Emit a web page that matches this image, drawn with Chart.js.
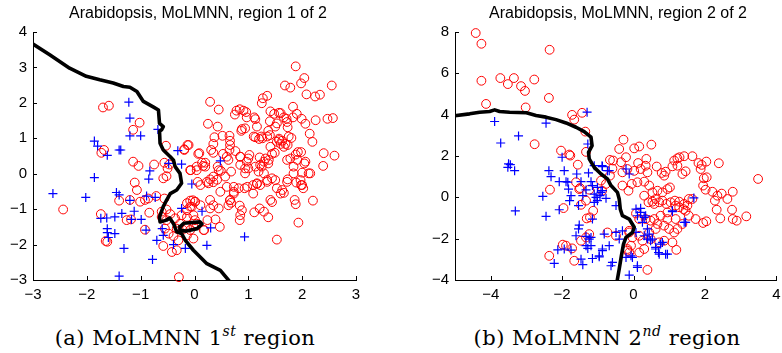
<!DOCTYPE html>
<html>
<head>
<meta charset="utf-8">
<script src="https://cdn.jsdelivr.net/npm/chart.js@4.4.1/dist/chart.umd.min.js"></script>
<style>
  body { margin: 0; background: #fff; width: 782px; height: 353px; position: relative; overflow: hidden; }
  canvas { position: absolute; top: 0; }
  #c1 { left: 0; }
  #c2 { left: 390px; }
  .ttl { position: absolute; top: 4px; font: 16px "Liberation Sans", Arial, sans-serif; color: #000; white-space: nowrap; transform: translateX(-50%); }
  .cap { position: absolute; top: 326px; font: 21px "DejaVu Serif", serif; letter-spacing: 0.5px; color: #000; white-space: nowrap; transform: translateX(-50%); }
  .cap sup { font-size: 14px; font-style: italic; vertical-align: 9px; line-height: 0; }
</style>
</head>
<body>
<canvas id="c1" width="390" height="310"></canvas>
<canvas id="c2" width="392" height="310"></canvas>
<div class="ttl" style="left:198px">Arabidopsis, MoLMNN, region 1 of 2</div>
<div class="ttl" style="left:618px">Arabidopsis, MoLMNN, region 2 of 2</div>
<div class="cap" style="left:185px">(a) MoLMNN 1<sup>st</sup> region</div>
<div class="cap" style="left:607px">(b) MoLMNN 2<sup>nd</sup> region</div>
<script>
// ---- region 1 ----
const xTicks1 = [-3, -2, -1, 0, 1, 2, 3];
const yTicks1 = [-3, -2, -1, 0, 1, 2, 3, 4];

const circles1 = [
  [1.88,3.03],[2.04,2.70],[1.98,2.55],[1.68,2.49],[1.78,2.43],[2.55,2.49],[2.33,2.23],[2.24,2.18],[2.08,2.24],
  [1.35,2.2],[1.27,2.13],[1.25,1.99],[0.29,2.03],[0.45,1.81],[0.84,1.82],[0.78,1.78],[0.91,1.78],[0.96,1.74],
  [0.75,1.67],[0.97,1.59],[1.11,1.59],[1.13,1.54],[1.41,1.76],[1.48,1.69],[1.57,1.72],[1.6,1.71],[1.66,1.59],
  [1.71,1.55],[1.83,1.89],[1.9,1.69],[1.83,1.59],[1.99,1.55],[2.47,1.55],[2.57,1.57],[2.25,1.51],[1.40,1.48],
  [1.53,1.42],[1.5,1.33],[1.72,1.46],[1.73,1.31],[0.25,1.41],[0.43,1.33],[0.88,1.26],[0.94,1.28],[0.87,1.21],
  [2.14,1.13],[2.06,1.41],[1.37,1.21],[1.40,1.09],[1.24,1.05],[1.2,0.98],[1.26,1.0],[1.13,1.03],[0.37,1.03],
  [0.52,1.07],[0.65,1.07],[0.66,0.93],[1.57,0.99],[1.63,0.93],[1.8,1.01],[1.69,0.84],[1.73,0.81],[1.6,0.84],
  [1.53,0.9],[2.19,0.9],[-0.13,0.81],[-0.19,0.67],[0.35,0.84],[0.31,0.67],[0.35,0.59],[0.66,0.81],[0.65,0.67],
  [0.76,0.64],[0.85,0.48],[1.02,0.53],[0.53,0.56],[0.6,0.48],[0.63,0.39],[0.09,0.58],[1.49,0.59],[1.44,0.56],
  [1.92,0.61],[1.88,0.54],[1.98,0.61],[2.4,0.58],[2.6,0.51],[2.39,0.22],[1.21,0.46],[1.29,0.34],[1.37,0.29],
  [1.38,0.39],[1.25,0.2],[0.97,0.34],[0.85,0.25],[0.94,0.15],[1.13,0.2],[1.19,0.06],[1.29,0.01],[1.72,0.39],
  [1.78,0.43],[1.91,0.39],[1.84,0.2],[2.04,0.29],[2.0,0.03],[2.12,0.01],[0.14,0.31],[0.2,0.2],[0.04,0.1],
  [-0.07,0.1],[0.43,0.2],[0.49,0.08],[0.68,0.06],[0.29,-0.16],[0.35,-0.24],[0.26,-0.27],[0.42,-0.17],[0.57,-0.08],
  [0.06,-0.23],[0.11,-0.32],[0.6,-0.37],[0.73,-0.37],[0.82,-0.41],[0.93,-0.41],[0.73,-0.51],[1.09,-0.32],
  [1.16,-0.29],[1.22,-0.32],[1.35,-0.18],[1.44,-0.13],[1.5,-0.18],[1.09,-0.56],[1.6,-0.56],[1.66,-0.54],
  [1.53,-0.41],[1.73,-0.16],[1.89,-0.25],[1.98,-0.32],[2.02,-0.41],[1.41,-0.74],[1.44,-0.8],[1.86,-0.74],
  [1.88,-0.86],[2.2,-0.76],[-0.08,-0.76],[0.01,-0.79],[-0.08,-0.93],[-0.14,-0.83],[0.29,-0.74],[0.35,-0.89],
  [0.29,-0.98],[0.45,-0.98],[0.66,-0.74],[0.63,-0.89],[0.68,-0.82],[0.84,-0.9],[0.88,-1.03],[0.85,-1.17],
  [0.84,-1.31],[1.11,-1.09],[1.21,-0.98],[1.29,-1.07],[1.37,-1.23],[-0.14,-1.03],[-0.02,-1.17],[0.01,-1.31],
  [0.24,-1.31],[0.39,-1.29],[0.47,-1.5],[0.18,-1.59],[1.93,-1.38],[1.53,-1.86],
  [0.85,0.48],[1.0,0.43],[1.0,0.15],[0.94,0.01],[1.22,0.25],[1.32,0.43],[1.41,0.76],[1.35,1.05],[1.1,1.05],
  [1.16,1.33],[1.57,0.95],[1.66,0.76],[1.75,1.05],[0.45,0.1],[0.35,-0.08],[0.23,-0.23],[0.48,-0.51],[0.73,-0.56],
  [0.66,-0.75],[0.98,-0.37],[1.16,-0.27],[1.35,-0.23],[1.63,-0.46],[1.72,-0.23],[1.84,0.01],[1.97,-0.18],
  [2.0,-0.32],[2.15,0.01],[2.06,0.34],
  [-1.7,1.87],[-1.59,1.92],[-1.02,1.44],[-1.14,1.24],[-0.53,0.79],[-0.19,0.69],[-0.11,0.81],[-1.68,0.67],
  [-1.73,0.59],[0.07,0.56],[-1.14,0.34],[-1.04,0.22],[-0.75,0.26],[-0.56,0.31],[-0.47,0.26],[-0.5,0.15],
  [-0.08,0.1],[0.04,0.2],[0.16,0.22],[0.2,0.31],[-0.58,-0.13],[-0.52,-0.07],[-1.11,-0.25],[-1.07,-0.46],
  [-1.4,-0.76],[-1.2,-0.74],[-1.01,-0.79],[-0.92,-0.74],[-0.86,-0.7],[-0.71,-0.63],[-0.56,-0.7],[-2.44,-1.01],
  [-1.74,-1.14],[-1.26,-1.31],[-1.18,-1.29],[-0.84,-1.1],[-0.61,-1.07],[-0.52,-1.01],[-0.92,-1.58],[-1.65,-1.9],
  [-1.62,-1.92],[-0.58,-2.04],[-0.42,-2.21],[-0.33,-2.16],[-0.29,-2.92],
  [-0.61,-1.22],[-0.52,-1.31],[-0.45,-1.14],[-0.36,-1.26],[-0.27,-1.41],[-0.33,-1.55],[-0.22,-1.58],[-0.14,-1.5],
  [-0.08,-1.59],[-0.02,-1.48],[0.04,-1.41],[-0.55,-1.55],[-0.48,-1.69],[-0.39,-1.76],[-0.3,-1.88],[-0.14,-1.74],
  [-0.02,-1.83],[0.17,-1.59],[-0.24,-1.17],[-0.14,-1.22],[-0.05,-0.93],[0.01,-0.79],[0.11,-0.89],[-0.03,-0.75]
];

const crosses1 = [
  [-1.22,2.02],[-1.2,1.57],[-1.2,1.07],[-1.0,1.07],[-0.68,1.25],[-1.86,0.92],[-1.8,0.78],[-1.62,0.52],
  [-1.4,0.67],[-1.37,0.67],[-0.31,0.65],[-1.86,-0.11],[-0.83,0.08],[-0.85,-0.15],[-0.48,0.29],[-0.24,0.27],
  [0.48,0.36],[-0.05,-0.29],[-2.63,-0.56],[-2.02,-0.67],[-1.45,-0.53],[-1.4,-0.6],[-1.2,-0.75],[-0.89,-0.63],
  [-0.73,-0.67],[-0.24,-0.98],[0.14,-1.06],[-1.12,-1.06],[-1.35,-1.12],[-1.48,-1.22],[-1.63,-1.25],[-1.74,-1.26],
  [-1.17,-1.29],[-0.99,-1.29],[-1.62,-1.55],[-1.62,-1.66],[-1.48,-1.69],[-1.6,-1.8],[-0.9,-1.59],[-0.6,-1.55],
  [-0.58,-1.74],[-0.7,-1.88],[-0.39,-2.0],[-0.17,-2.11],[0.23,-2.02],[0.3,-1.53],[0.93,-1.78],[-1.31,-2.11],
  [-0.78,-2.42],[-1.4,-2.89]
];

const boundary1 = [
  [-3,3.66],[-2.69,3.36],[-2.32,2.98],[-2.01,2.75],[-1.76,2.65],[-1.51,2.56],[-1.32,2.46],[-1.2,2.44],
  [-1.07,2.32],[-0.95,2.04],[-0.76,1.88],[-0.67,1.80],[-0.65,1.42],[-0.58,1.33],[-0.61,1.24],[-0.65,1.2],
  [-0.64,0.86],[-0.58,0.67],[-0.45,0.48],[-0.39,0.38],[-0.36,0.20],[-0.27,0.01],[-0.24,-0.27],[-0.33,-0.46],
  [-0.45,-0.56],[-0.52,-0.75],[-0.58,-0.93],[-0.65,-1.22],[-0.64,-1.36],[-0.52,-1.31],[-0.46,-1.25],
  [-0.39,-1.41],[-0.33,-1.64],[-0.24,-1.69],[-0.17,-1.88],[-0.02,-2.16],[0.23,-2.54],[0.48,-2.73],[0.63,-3.0]
];

const loop1 = [
  [-0.27,-1.5],[-0.2,-1.4],[0.1,-1.36],[0.14,-1.42],[0.05,-1.55],[-0.15,-1.62],[-0.27,-1.6],[-0.27,-1.5]
];

// ---- region 2 ----
const xTicks2 = [-4, -2, 0, 2, 4];
const yTicks2 = [-4, -2, 0, 2, 4, 6, 8];

const circles2 = [
  [-4.42,7.95],[-4.26,7.43],[-4.26,5.64],[-4.13,4.52],[-3.73,5.77],[-3.52,5.48],[-3.35,5.77],[-3.15,5.38],
  [-3.04,5.15],[-2.78,5.7],[-2.35,7.14],[-2.37,4.81],[-3.02,4.35],[-2.77,2.57],[-1.72,3.99],[-1.44,4.09],
  [-1.66,3.76],[-1.35,3.18],[-2.03,2.26],[-1.8,2.07],[-1.77,2.02],[-1.56,1.58],[-1.33,2.2],[-2.34,0.37],
  [-1.96,-0.52],[-1.98,-2.29],[-1.89,-2.34],[-1.72,-2.47],[-2.36,-2.83],[-1.66,-3.07],[-1.5,0.45],[-1.24,0.37],
  [-1.47,-0.36],[-1.33,-0.16],[-1.13,-0.65],[-1.31,-1.02],[-1.47,-2.1],[-1.24,-1.78],[-0.91,0.81],[-0.88,0.32],
  [-0.77,0.65],[-0.66,1.05],[-0.57,1.78],[-0.35,1.7],[-0.73,-1.7],[-0.49,-1.86],[-0.12,-1.62],[-0.07,-2.34],
  [-0.17,-2.58],[-1.61,0.73],[-1.52,0.4],[-1.22,-0.97],[-1.33,-1.94],
  [-0.28,2.79],[-0.4,2.34],[0.02,2.37],[0.16,2.46],[0.5,2.55],[-0.66,1.81],[-0.59,1.39],[-0.21,1.94],
  [0.13,1.66],[0.36,1.86],[0.65,1.49],[0.86,1.05],[0.79,1.18],[0.9,1.24],[1.14,1.78],[1.23,1.89],[1.29,1.94],
  [1.42,1.99],[1.65,1.99],[1.09,1.5],[1.23,1.53],[1.37,1.13],[1.46,1.26],[1.82,1.66],[1.91,1.57],[2.04,1.73],
  [2.39,1.65],[1.88,1.37],[1.97,0.92],[2.05,0.97],[1.95,0.57],[2.02,0.37],[2.21,0.27],[2.28,-0.16],[2.35,0.08],
  [2.47,0.18],[2.63,-0.08],[2.78,0.27],[3.49,0.89],[3.16,-0.92],[2.76,-0.6],[2.78,-1.05],[2.89,-1.13],
  [2.43,-1.02],[1.95,-1.24],[2.04,-1.16],[2.33,-0.6],[-0.31,1.21],[-0.17,1.37],[0.02,1.28],[0.2,1.37],
  [0.34,1.53],[0.39,1.21],
  [-0.31,0.57],[-0.14,0.32],[-0.05,0.65],[0.11,0.73],[0.3,0.76],[0.44,0.57],[0.53,0.24],[0.67,0.32],[0.81,0.24],
  [0.95,0.4],[1.02,0.48],[0.3,0.08],[0.42,-0.24],[0.53,-0.21],[0.62,-0.08],[0.72,-0.24],[0.81,-0.16],[0.92,-0.32],
  [1.04,-0.24],[1.16,-0.16],[1.28,-0.21],[1.42,-0.32],[1.51,-0.4],[1.55,-0.08],[1.65,-0.08],[0.07,-0.78],
  [0.16,-1.05],[0.34,-1.05],[0.48,-1.13],[0.58,-1.05],[0.67,-1.29],[0.86,-1.37],[1.0,-1.53],[1.14,-1.7],
  [1.23,-1.53],[1.37,-1.29],[-0.12,-1.7],[-0.03,-1.94],[0.16,-1.86],[0.25,-2.1],[0.48,-2.02],[0.72,-2.18],
  [0.86,-2.1],[1.09,-2.18],[1.2,-2.54],[-0.17,-2.5],[-0.12,-2.67],[0.39,-3.51],[0.16,-2.67],[0.3,-2.5],
  [1.4,-0.57],[1.46,-0.65],[0.58,-0.32],[1.18,-0.4],[1.28,-0.48],[0.95,-0.73],[0.76,-0.89],[1.18,-1.05],
  [1.55,-0.89],[1.74,-1.05],[0.95,-1.05],[0.62,-1.53],[0.44,-1.7]
];

const crosses2 = [
  [-1.3,4.12],[-3.89,3.67],[-2.45,3.59],[-3.72,2.63],[-3.22,2.97],[-3.5,1.62],[-3.45,1.58],[-3.52,1.45],
  [-3.33,1.29],[-3.31,-0.66],[-2.54,0.05],[-2.45,-0.92],[-2.37,1.29],[-2.31,1.0],[-2.0,1.94],[-1.94,1.29],
  [-2.08,0.76],[-1.89,0.76],[-1.84,0.73],[-1.82,0.4],[-1.75,0.08],[-1.79,-0.16],[-2.08,-0.6],[-1.59,1.13],
  [-1.47,0.76],[-1.26,1.18],[-1.19,0.76],[-1.33,0.36],[-1.42,0.08],[-1.15,0.57],[-1.1,0.16],[-1.01,0.48],
  [-1.01,-0.16],[-0.94,0.08],[-0.87,0.32],[-0.77,-0.05],[-1.1,1.53],[-0.88,1.53],[-0.68,1.29],[-1.28,2.58],
  [-1.54,-0.4],[-1.52,-1.34],[-1.54,-1.53],[-1.61,-1.86],[-1.33,-1.89],[-1.24,-2.02],[-1.33,-2.34],[-1.28,-2.47],
  [-1.19,-2.34],[-1.94,-2.5],[-2.12,-2.54],[-2.22,-3.2],[-1.75,-2.55],[-1.47,-2.99],[-1.42,-3.26],[-1.15,-2.96],
  [-0.96,-2.88],[-0.87,-2.58],[-0.68,-2.34],[-0.63,-3.31],[-0.49,-1.7],[-0.4,-2.02],[0.07,-0.57],[0.11,-0.89],
  [0.2,-0.73],[0.25,-1.21],[0.3,-0.97],[0.39,-1.53],[0.44,-1.78],[0.53,-2.02],[0.62,-2.42],[0.7,-2.67],
  [0.9,-2.75],[0.81,-2.18],[1.09,-0.65],[1.46,-1.21],[1.69,-0.03],[-0.12,-3.76],[0.11,-3.31],[-0.21,-2.91],
  [-0.07,-2.83],[-0.87,1.49],[-0.73,1.29],[-0.21,1.37],[-0.12,1.13],[-0.91,0.24],[-1.05,0],[-1.1,-0.24],
  [-0.49,-0.4],[0.2,-0.53],[0.34,-0.89],[1.09,-0.69],[1.42,-1.21],[-1.15,-1.05],[-1.19,-1.94],[-0.82,-1.78],
  [-0.31,-1.62],[0.07,-1.7],[0.3,-1.86],[0.39,-2.02],[0.48,-2.1],[0.62,-2.5],[0.76,-2.26],[0.95,-2.75],
  [0.72,-2.75],[-0.03,-2.91],[0.11,-3.39],[-0.87,-2.5],[-0.96,-2.83],[-0.59,-3.15]
];

const boundary2 = [
  [-4.96,3.96],[-4.59,4.04],[-4.31,4.12],[-4.03,4.15],[-3.89,4.23],[-3.75,4.15],[-3.47,4.12],[-3.0,4.09],
  [-2.73,3.96],[-2.45,3.88],[-2.17,3.76],[-1.89,3.6],[-1.61,3.39],[-1.38,3.18],[-1.19,2.91],[-1.16,2.5],
  [-1.26,2.18],[-1.24,1.86],[-1.1,1.45],[-0.91,1.13],[-0.73,0.89],[-0.63,0.57],[-0.45,0.24],[-0.4,-0.08],
  [-0.37,-0.57],[-0.31,-0.89],[-0.12,-1.05],[0.02,-1.45],[-0.03,-1.7],[-0.21,-1.94],[-0.28,-2.26],
  [-0.34,-2.83],[-0.4,-3.47],[-0.45,-3.96]
];

function pts(arr) {
  return arr.map(p => ({ x: p[0], y: p[1] }));
}

const inwardTicks = {
  id: 'inwardTicks',
  afterDraw(chart) {
    const ctx = chart.ctx;
    const area = chart.chartArea;
    const sx = chart.scales.x, sy = chart.scales.y;
    ctx.save();
    ctx.strokeStyle = '#000';
    ctx.lineWidth = 1;
    sx.ticks.forEach(t => {
      const px = Math.round(sx.getPixelForValue(t.value)) + 0.5;
      ctx.beginPath(); ctx.moveTo(px, area.bottom); ctx.lineTo(px, area.bottom - 4); ctx.stroke();
    });
    sy.ticks.forEach(t => {
      const py = Math.round(sy.getPixelForValue(t.value)) + 0.5;
      ctx.beginPath(); ctx.moveTo(area.left, py); ctx.lineTo(area.left + 4, py); ctx.stroke();
    });
    ctx.restore();
  }
};

function makeChart(id, circles, crosses, lines, xr, yr, xt, yt, yWidth, padRight) {
  const lineSets = lines.map(l => ({
    data: pts(l),
    showLine: true,
    borderColor: '#000',
    borderWidth: 3.6,
    borderJoinStyle: 'round',
    borderCapStyle: 'square',
    pointRadius: 0,
    order: 0
  }));
  const tickFont = { family: '"Liberation Sans", Arial, sans-serif', size: 15 };
  const minus = v => String(v).replace('-', '\u2212');
  new Chart(document.getElementById(id), {
    type: 'scatter',
    data: {
      datasets: lineSets.concat([
        {
          data: pts(crosses),
          pointStyle: 'cross',
          pointRadius: 4.5,
          borderColor: '#0000ff',
          borderWidth: 1.2,
          clip: false,
          order: 1
        },
        {
          data: pts(circles),
          pointStyle: 'circle',
          pointRadius: 4.4,
          borderColor: '#ff0000',
          backgroundColor: 'rgba(0,0,0,0)',
          borderWidth: 1,
          clip: false,
          order: 2
        }
      ])
    },
    options: {
      responsive: false,
      animation: false,
      layout: { padding: { top: 32, right: padRight, left: 0, bottom: 0 } },
      plugins: { legend: { display: false }, tooltip: { enabled: false } },
      scales: {
        x: {
          type: 'linear', min: xr[0], max: xr[1],
          grid: { display: false, drawTicks: false },
          border: { display: true, color: '#000', width: 1 },
          afterBuildTicks: s => { s.ticks = xt.map(v => ({ value: v })); },
          afterFit: s => { s.height = 30; s.paddingLeft = 0; s.paddingRight = 0; },
          ticks: { font: tickFont, color: '#000', padding: 6, maxRotation: 0, callback: minus }
        },
        y: {
          type: 'linear', min: yr[0], max: yr[1],
          grid: { display: false, drawTicks: false },
          border: { display: true, color: '#000', width: 1 },
          afterBuildTicks: s => { s.ticks = yt.map(v => ({ value: v })); },
          afterFit: s => { s.width = yWidth; },
          ticks: { font: tickFont, color: '#000', padding: 6, callback: minus }
        }
      }
    },
    plugins: [inwardTicks]
  });
}

makeChart('c1', circles1, crosses1, [boundary1, loop1], [-3, 3], [-3, 4], xTicks1, yTicks1, 33, 34);
makeChart('c2', circles2, crosses2, [boundary2], [-5, 4], [-4, 8], xTicks2, yTicks2, 65, 4);
</script>
</body>
</html>
